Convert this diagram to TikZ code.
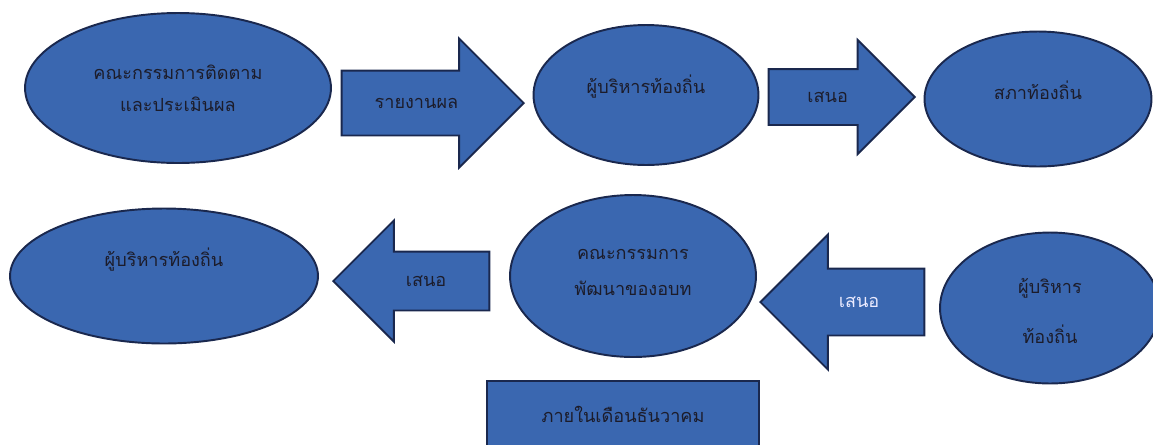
\documentclass[tikz,border=0pt]{standalone}
\usepackage{fontspec}
\newfontfamily\thaifont[Script=Thai]{Loma}
\usetikzlibrary{shapes.geometric,shapes.arrows}
\definecolor{boxblue}{RGB}{58,103,176}
\definecolor{edgeblue}{RGB}{26,40,78}
\definecolor{inkdark}{RGB}{28,28,42}

\begin{document}
\begin{tikzpicture}[x=0.02cm, y=-0.02cm,
	oval/.style = {ellipse, draw=edgeblue, fill=boxblue, line width=1.1pt, inner sep=0pt},
	blockarrow/.style = {single arrow, draw=edgeblue, fill=boxblue, line width=1.1pt, text height=0.3cm, text depth=0.1cm, inner xsep=2pt, anchor=tip, font=\thaifont\fontsize{10.3}{12.5}\selectfont, text=inkdark},
	thaitext/.style = {font=\thaifont\fontsize{10.3}{12.5}\selectfont, text=inkdark, align=center}]
	\useasboundingbox (0,0) rectangle (1153,444);

	% top row
	\node[oval, minimum width=6.12cm, minimum height=3cm, label={[thaitext]center:คณะกรรมการติดตาม\\[5.5pt]และประเมินผล}] (evalCmt) at (178,88) {};
	\node[blockarrow, minimum height=3.64cm, inner ysep=0.43cm, single arrow head extend=0.64cm] (arrReport) at (525,103) {รายงานผล};
	\node[oval, minimum width=4.5cm, minimum height=2.8cm, label={[thaitext, yshift=0.16cm]center:ผู้บริหารท้องถิ่น}] (localExec) at (646,95) {};
	\node[blockarrow, minimum height=2.92cm, inner ysep=0.34cm, single arrow head extend=0.58cm] (arrPropose) at (916,97) {เสนอ};
	\node[oval, minimum width=4.54cm, minimum height=2.7cm, label={[thaitext, yshift=0.18cm]center:สภาท้องถิ่น}] (localCouncil) at (1038,99) {};

	% bottom row, right to left
	\node[oval, minimum width=4.4cm, minimum height=3.02cm, label={[thaitext, yshift=-0.06cm]center:ผู้บริหาร\\[14.5pt]ท้องถิ่น}] (execStart) at (1050,308) {};
	\node[blockarrow, shape border rotate=180, minimum height=3.28cm, inner ysep=0.45cm, single arrow head extend=0.68cm, text=white!92!blue] (arrToDev) at (759,302) {เสนอ};
	\node[oval, minimum width=4.92cm, minimum height=3.24cm, label={[thaitext, yshift=0.07cm]center:คณะกรรมการ\\[7.5pt]พัฒนาของอบท}] (devCmt) at (633,276) {};
	\node[blockarrow, shape border rotate=180, minimum height=3.12cm, inner ysep=0.37cm, single arrow head extend=0.62cm] (arrBack) at (332,281) {เสนอ};
	\node[oval, minimum width=6.16cm, minimum height=2.7cm, label={[thaitext, yshift=0.32cm]center:ผู้บริหารท้องถิ่น}] (execEnd) at (164,276) {};

	\node[thaitext, draw=edgeblue, fill=boxblue, line width=1.1pt, minimum width=5.44cm, minimum height=1.34cm] (deadline) at (623,414.5) {ภายในเดือนธันวาคม}; % time limit box
\end{tikzpicture}
\end{document}
